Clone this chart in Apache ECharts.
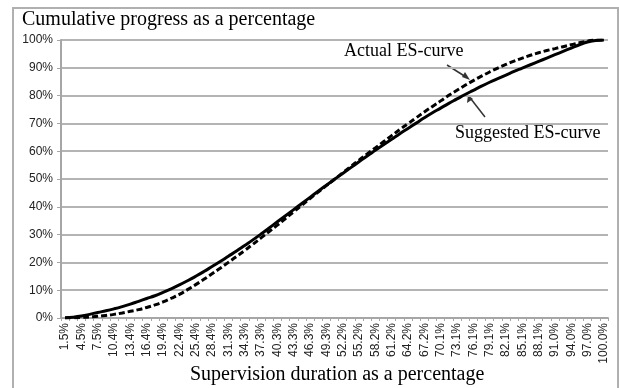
<!DOCTYPE html>
<html>
<head>
<meta charset="utf-8">
<script src="https://cdn.jsdelivr.net/npm/echarts@6/dist/echarts.min.js"></script>
<style>
  html, body { margin: 0; padding: 0; background: #fff; }
  #chart { width: 619px; height: 388px; }
</style>
</head>
<body>
<div id="chart"></div>
<script>
// supervision duration, k/67 of the total
var durations = [
  '1.5%', '3.0%', '4.5%', '6.0%', '7.5%', '9.0%', '10.4%', '11.9%', '13.4%', '14.9%',
  '16.4%', '17.9%', '19.4%', '20.9%', '22.4%', '23.9%', '25.4%', '26.9%', '28.4%', '29.9%',
  '31.3%', '32.8%', '34.3%', '35.8%', '37.3%', '38.8%', '40.3%', '41.8%', '43.3%', '44.8%',
  '46.3%', '47.8%', '49.3%', '50.7%', '52.2%', '53.7%', '55.2%', '56.7%', '58.2%', '59.7%',
  '61.2%', '62.7%', '64.2%', '65.7%', '67.2%', '68.7%', '70.1%', '71.6%', '73.1%', '74.6%',
  '76.1%', '77.6%', '79.1%', '80.6%', '82.1%', '83.6%', '85.1%', '86.6%', '88.1%', '89.6%',
  '91.0%', '92.5%', '94.0%', '95.5%', '97.0%', '98.5%', '100.0%'
];

var suggested = [
  0.1, 0.3, 0.7, 1.3, 2.0, 2.6, 3.3, 4.1, 5.0, 6.0,
  7.0, 8.0, 9.2, 10.5, 11.9, 13.4, 15.0, 16.7, 18.5, 20.3,
  22.2, 24.1, 26.1, 28.1, 30.2, 32.4, 34.6, 36.8, 39.0, 41.2,
  43.4, 45.6, 47.8, 49.9, 52.0, 54.1, 56.2, 58.3, 60.3, 62.3,
  64.3, 66.3, 68.2, 70.1, 72.0, 73.8, 75.5, 77.2, 78.8, 80.4,
  81.9, 83.4, 84.8, 86.1, 87.4, 88.7, 89.9, 91.1, 92.3, 93.5,
  94.7, 95.9, 97.1, 98.3, 99.3, 99.8, 100
];

var actual = [
  0.0, 0.1, 0.2, 0.4, 0.6, 0.9, 1.3, 1.8, 2.4, 3.0,
  3.8, 4.7, 5.8, 7.1, 8.5, 10.2, 12.0, 13.9, 15.9, 17.9,
  20.0, 22.1, 24.3, 26.5, 28.8, 31.1, 33.4, 35.8, 38.2, 40.6,
  43.0, 45.3, 47.6, 49.9, 52.2, 54.5, 56.8, 59.0, 61.2, 63.4,
  65.6, 67.8, 69.9, 72.0, 74.1, 76.1, 78.1, 80.1, 81.9, 83.7,
  85.4, 87.0, 88.5, 89.9, 91.2, 92.4, 93.5, 94.5, 95.4, 96.2,
  96.9, 97.6, 98.3, 99.0, 99.6, 100, 100
];

var chart = echarts.init(document.getElementById('chart'));

var serif = '"Liberation Serif", "Times New Roman", serif';
var sans = '"Liberation Sans", Arial, sans-serif';

var option = {
  animation: false,
  grid: { left: 61, right: 11, top: 40, bottom: 70 },
  xAxis: {
    type: 'category',
    data: durations,
    boundaryGap: true,
    axisLine: { lineStyle: { color: '#a6a6a6', width: 2 } },
    axisTick: { show: true, interval: 0, length: 3, lineStyle: { color: '#a6a6a6' } },
    axisLabel: {
      interval: 1, rotate: 90, margin: 5,
      fontFamily: sans, fontSize: 12, color: '#222'
    },
    splitLine: { show: false }
  },
  yAxis: {
    type: 'value',
    min: 0,
    max: 100,
    interval: 10,
    axisLine: { show: true, lineStyle: { color: '#a6a6a6', width: 2 } },
    axisTick: { show: true, length: 4, lineStyle: { color: '#a6a6a6' } },
    axisLabel: { formatter: '{value}%', fontFamily: sans, fontSize: 12, color: '#222', margin: 8 },
    splitLine: { lineStyle: { color: '#b4b4b4', width: 2 } }
  },
  series: [
    {
      name: 'Suggested ES-curve',
      type: 'line',
      data: suggested,
      symbol: 'none',
      smooth: true,
      lineStyle: { color: '#000', width: 3 }
    },
    {
      name: 'Actual ES-curve',
      type: 'line',
      data: actual,
      symbol: 'none',
      smooth: true,
      lineStyle: { color: '#000', width: 3, type: [6, 3] }
    }
  ],
  graphic: [
    {
      type: 'rect', silent: true,
      shape: { x: 13, y: 8, width: 605, height: 390 },
      style: { fill: 'none', stroke: '#b0b0b0', lineWidth: 2 }
    },
    {
      type: 'text', left: 22, top: 10,
      style: { text: 'Cumulative progress as a percentage', font: '20px ' + serif, fill: '#000' }
    },
    {
      type: 'text', left: 190, top: 365,
      style: { text: 'Supervision duration as a percentage', font: '20px ' + serif, fill: '#000' }
    },
    {
      type: 'text', left: 344, top: 42,
      style: { text: 'Actual ES-curve', font: '18px ' + serif, fill: '#000' }
    },
    {
      type: 'text', left: 455, top: 124,
      style: { text: 'Suggested ES-curve', font: '18px ' + serif, fill: '#000' }
    },
    // pointer lines with small heads
    {
      type: 'line', silent: true,
      shape: { x1: 447, y1: 65, x2: 466, y2: 77 },
      style: { stroke: '#333', lineWidth: 1.5 }
    },
    {
      type: 'polygon', silent: true,
      shape: { points: [[470, 80], [462, 77], [465, 72]] },
      style: { fill: '#333' }
    },
    {
      type: 'line', silent: true,
      shape: { x1: 485, y1: 117, x2: 471, y2: 99 },
      style: { stroke: '#333', lineWidth: 1.5 }
    },
    {
      type: 'polygon', silent: true,
      shape: { points: [[468, 95], [467, 103], [473, 99]] },
      style: { fill: '#333' }
    }
  ]
};

chart.setOption(option);
</script>
</body>
</html>
